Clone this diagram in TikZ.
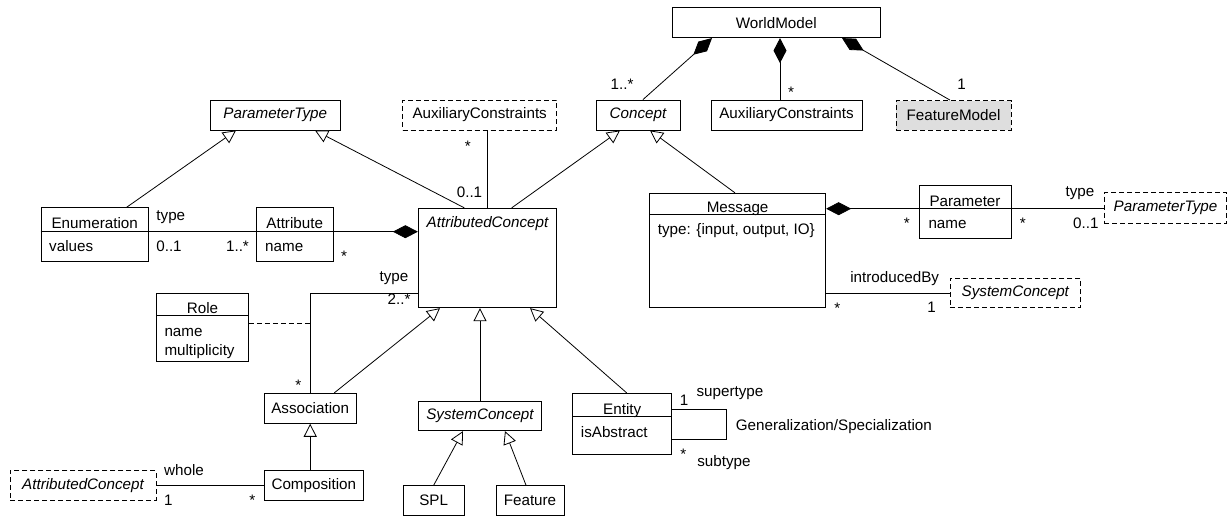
\documentclass[tikz,border=0pt]{standalone}
\usepackage{fontspec}
\setmainfont{Liberation Sans}
\usetikzlibrary{arrows.meta}
\tikzset{
  box/.style={draw, line width=0.9pt, inner sep=0pt, fill=white},
  dbox/.style={box, dash pattern=on 5pt off 3pt},
  it/.style={font=\fontsize{15.2pt}{18pt}\selectfont\itshape},
  lbl/.style={anchor=base, inner sep=0pt},
  attrtxt/.style={anchor=base west, inner sep=0pt},
  gen/.style={-{Triangle[open,fill=white,length=13pt,width=13pt]}, line width=0.8pt},
  comp/.style={-{Diamond[fill=black,length=25pt,width=13pt]}, line width=0.8pt},
  assoc/.style={line width=0.8pt}
}
\begin{document}
\begin{tikzpicture}[x=1pt,y=-1pt,font=\fontsize{15.2pt}{18pt}\selectfont]
\useasboundingbox (0,0) rectangle (1230,516);

% ---------- boxes ----------
\node[box, minimum width=207.3pt, minimum height=29.7pt] (wm) at (776.3,22.8) {WorldModel};
\node[box, it, minimum width=84pt, minimum height=30pt] (concept) at (638,115) {Concept};
\node[box, minimum width=151pt, minimum height=30pt] (auxc) at (786.5,115) {AuxiliaryConstraints};
\node[dbox, fill=black!13, minimum width=115pt, minimum height=29.5pt] (fm) at (953.5,115.3) {FeatureModel};
\node[dbox, minimum width=154pt, minimum height=30pt] (auxd) at (479.7,115) {AuxiliaryConstraints};
\node[box, it, minimum width=130.7pt, minimum height=30pt] (ptl) at (275.3,115) {ParameterType};

\node[box, minimum width=107.3pt, minimum height=54pt] (enum) at (94.7,234.7) {};
\draw[line width=0.9pt] ([yshift=-24pt]enum.north west) -- ([yshift=-24pt]enum.north east);
\node[lbl] (enumT) at (94.7,228.7) {Enumeration};
\node[attrtxt] (enumA) at (49,251) {values};

\node[box, minimum width=77.3pt, minimum height=54pt] (attr) at (294.7,234.7) {};
\draw[line width=0.9pt] ([yshift=-24pt]attr.north west) -- ([yshift=-24pt]attr.north east);
\node[lbl] (attrT) at (294.7,228.7) {Attribute};
\node[attrtxt] (attrA) at (265,251) {name};

\node[box, minimum width=138.4pt, minimum height=99.4pt] (ac) at (487.5,258) {};
\node[lbl, it] (acT) at (487.5,227.6) {AttributedConcept};

\node[box, minimum width=176.2pt, minimum height=114.4pt] (msg) at (737.6,250.5) {};
\draw[line width=0.9pt] ([yshift=-21.7pt]msg.north west) -- ([yshift=-21.7pt]msg.north east);
\node[lbl] (msgT) at (737.6,212.3) {Message};
\node[attrtxt] (msgA) at (657.7,234.5) {type: \{input, output, IO\}};

\node[box, minimum width=92pt, minimum height=53.3pt] (param) at (965,211.7) {};
\draw[line width=0.9pt] ([yshift=-24pt]param.north west) -- ([yshift=-24pt]param.north east);
\node[lbl] (paramT) at (965,206) {Parameter};
\node[attrtxt] (paramA) at (928.3,228) {name};

\node[dbox, it, minimum width=122.4pt, minimum height=31pt] (ptr) at (1165.5,207.8) {ParameterType};
\node[dbox, it, minimum width=130.7pt, minimum height=29pt] (scr) at (1015.3,293) {SystemConcept};

\node[box, minimum width=91.6pt, minimum height=67.7pt] (role) at (202.5,327.2) {};
\draw[line width=0.9pt] ([yshift=-22.7pt]role.north west) -- ([yshift=-22.7pt]role.north east);
\node[lbl] (roleT) at (202.5,313.3) {Role};
\node[attrtxt] (roleA) at (164.3,336) {name};
\node[attrtxt] (roleB) at (164.3,355) {multiplicity};

\node[box, minimum width=91.7pt, minimum height=30pt] (assoc) at (310.2,408.3) {Association};
\node[box, minimum width=99pt, minimum height=29.3pt] (comp) at (313.8,485.3) {Composition};
\node[dbox, it, minimum width=146pt, minimum height=29.3pt] (acd) at (83,485.3) {AttributedConcept};
\node[box, it, minimum width=123.4pt, minimum height=29.7pt] (sc) at (480,415.8) {SystemConcept};

\node[box, minimum width=99pt, minimum height=60.7pt] (entity) at (622.2,423.7) {};
\draw[line width=0.9pt] ([yshift=-23.4pt]entity.north west) -- ([yshift=-23.4pt]entity.north east);
\node[lbl] (entT) at (622.2,414) {Entity};
\node[attrtxt] (entA) at (580.7,437) {isAbstract};

\node[box, minimum width=60.7pt, minimum height=29.3pt] (spl) at (433.7,500.3) {SPL};
\node[box, minimum width=68pt, minimum height=29.3pt] (feat) at (530,500.3) {Feature};

% ---------- compositions from WorldModel ----------
\draw[comp] ([xshift=5pt]concept.north) -- ([xshift=-64.3pt]wm.south);
\coordinate (a1) at ([xshift=-6.5pt]auxc.north);
\draw[comp] (a1) -- (a1 |- wm.south);
\draw[comp] ([xshift=-3.5pt]fm.north) -- ([xshift=65.7pt]wm.south);

% ---------- generalizations ----------
\draw[gen] ([xshift=32pt]enum.north) -- ([xshift=-39.3pt]ptl.south);
\draw[gen] ([xshift=-23.2pt]ac.north) -- ([xshift=39.7pt]ptl.south);
\draw[gen] ([xshift=24.2pt]ac.north) -- ([xshift=-18pt]concept.south);
\draw[gen] ([xshift=-2.6pt]msg.north) -- ([xshift=12pt]concept.south);
\draw[gen] ([xshift=24.1pt]assoc.north) -- ([xshift=-47.5pt]ac.south);
\draw[gen] (sc.north) -- (sc.north |- ac.south);
\draw[gen] ([xshift=4.5pt]entity.north) -- ([xshift=42.5pt]ac.south);
\draw[gen] (assoc.south |- comp.north) -- (assoc.south);
\draw[gen] (spl.north) -- ([xshift=-17pt]sc.south);
\draw[gen] ([xshift=-4pt]feat.north) -- ([xshift=25pt]sc.south);

% ---------- associations ----------
\draw[assoc] ([yshift=3pt]enum.east) -- ([yshift=3pt]attr.west);
\draw[comp] ([yshift=3pt]attr.east) -- ([yshift=26.3pt]ac.west);
\draw[assoc] (auxd.south -| ac.north) -- (ac.north);
\draw[assoc] (assoc.north) |- ([yshift=-35pt]ac.west);
\coordinate (rj) at ([yshift=3.9pt]role.east);
\draw[assoc, dash pattern=on 5pt off 3pt] (rj) -- (rj -| assoc.north);
\draw[assoc] (comp.west) -- (comp.west -| acd.east);
\coordinate (pw) at ([yshift=3pt]param.west);
\draw[comp] (pw) -- (pw -| msg.east);
\coordinate (pe) at ([yshift=3pt]param.east);
\draw[assoc] (pe) -- (pe -| ptr.west);
\draw[assoc] (scr.west) -- (scr.west -| msg.east);
\draw[assoc] ([yshift=14.7pt]entity.east) -- ++(54.3,0) -- ++(0,30) -- ([yshift=-15.3pt]entity.east);

% ---------- labels ----------
\node[lbl] (l1) at (622,90) {1..*};
\node[lbl] (l2) at (791,98) {*};
\node[lbl] (l3) at (961.7,89.3) {1};
\node[lbl] (l4) at (467.7,151.5) {*};
\node[lbl] (l5) at (469.5,197.3) {0..1};
\node[lbl] (l6) at (170.8,220) {type};
\node[lbl] (l7) at (169,251.7) {0..1};
\node[lbl] (l8) at (237.5,251.7) {1..*};
\node[lbl] (l9) at (344,261) {*};
\node[lbl] (l10) at (394,281) {type};
\node[lbl] (l11) at (399,304.3) {2..*};
\node[lbl] (l12) at (298.3,390) {*};
\node[lbl] (l13) at (184,475) {whole};
\node[lbl] (l14) at (168.3,505) {1};
\node[lbl] (l15) at (252.3,505.5) {*};
\node[lbl] (l16) at (906.7,228.5) {*};
\node[lbl] (l17) at (1022.7,228.5) {*};
\node[lbl] (l18) at (1080,196.7) {type};
\node[lbl] (l19) at (1085.8,228.3) {0..1};
\node[lbl] (l20) at (894.7,282.7) {introducedBy};
\node[lbl] (l21) at (837.3,313) {*};
\node[lbl] (l22) at (931.7,312) {1};
\node[lbl] (l23) at (684,405) {1};
\node[lbl] (l24) at (730,396.7) {supertype};
\node[attrtxt] (l25) at (735.7,430) {Generalization/Specialization};
\node[lbl] (l26) at (683.3,459) {*};
\node[lbl] (l27) at (724,466.7) {subtype};
\end{tikzpicture}
\end{document}
